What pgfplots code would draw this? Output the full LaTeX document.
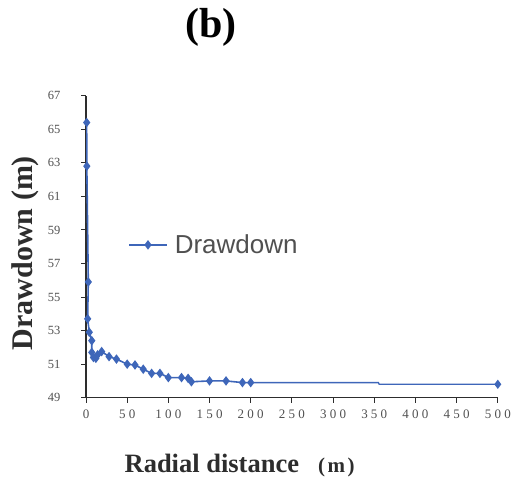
\documentclass[border=0pt]{standalone}
\usepackage{pgfplots}
\pgfplotsset{compat=1.18}
\usepackage{fontspec}
\setmainfont{Liberation Serif}
\newfontfamily\legfont{Liberation Sans}
\newfontfamily\xtfont[LetterSpace=25]{Liberation Serif}
\definecolor{ser}{RGB}{62,102,185}
\definecolor{axc}{RGB}{45,45,45}
\definecolor{tkc}{RGB}{80,80,80}
\begin{document}
\begin{tikzpicture}
\useasboundingbox (0pt,0pt) rectangle (511pt,482pt);
\begin{axis}[
  at={(86pt,84.3pt)}, anchor=south west,
  scale only axis, width=411.8pt, height=302pt,
  xmin=0, xmax=500, ymin=49, ymax=67,
  xtick={0,50,...,500}, ytick={49,51,...,67},
  axis x line*=bottom, axis y line*=left,
  axis line style={axc, line width=1.3pt, -},
  tick style={axc, line width=1pt},
  tick align=outside, major tick length=5pt,
  /pgf/number format/assume math mode=true,
  yticklabel style={font=\fontsize{12.5}{12.5}\selectfont, text=tkc, xshift=-17pt},
  xticklabel style={font=\xtfont\fontsize{13}{13}\selectfont, text=tkc, yshift=-4pt},
  title={(b)},
  title style={at={(axis description cs:0.303,1.205)}, anchor=center, font=\fontsize{42}{42}\selectfont\bfseries},
  xlabel={Radial distance\hspace{19pt}{\fontsize{21}{21}\selectfont(\hspace{2.5pt}m\hspace{2.5pt})}},
  xlabel style={at={(axis description cs:0.373,-0.223)}, anchor=center, font=\fontsize{26.5}{26.5}\selectfont\bfseries, text=axc},
  ylabel={Drawdown (m)},
  ylabel style={at={(axis description cs:-0.148,0.479)}, anchor=center, rotate=0, font=\fontsize{30}{30}\selectfont\bfseries, text=axc},
  legend style={at={(axis description cs:0.102,0.506)}, anchor=west, draw=none, fill=none,
    font=\legfont\fontsize{26}{26}\selectfont, text=tkc, inner sep=0pt},
  legend image code/.code={\draw[mark repeat=2, mark phase=2, #1] plot coordinates {(0pt,0pt) (19pt,0pt) (38pt,0pt)};},
  legend cell align=left,
]
\addplot[color=ser, line width=1.6pt, mark=diamond*, mark size=3.5pt, mark options={solid, fill=ser}]
  table {
x y
0.8 65.4
1.0 62.8
2.8 55.9
2.0 53.7
4.0 52.9
7.0 52.4
7.0 51.7
9.0 51.4
12.0 51.35
14.0 51.55
19.0 51.75
28.0 51.45
37.0 51.3
50.0 51.0
59.5 50.95
69.5 50.7
79.7 50.45
89.8 50.45
100.0 50.2
116.0 50.2
124.0 50.15
128.0 49.95
150.0 50.0
170.0 50.0
190.0 49.9
200.0 49.9
};
\addlegendentry{\hspace{5pt}Drawdown}
\addplot[forget plot, color=ser, line width=1.4pt, mark=diamond*, mark size=3.5pt, mark indices={4}, mark options={solid, fill=ser}]
  table {
x y
200.0 49.9
355.0 49.9
356.0 49.8
500.0 49.8
};
\end{axis}
\end{tikzpicture}
\end{document}
